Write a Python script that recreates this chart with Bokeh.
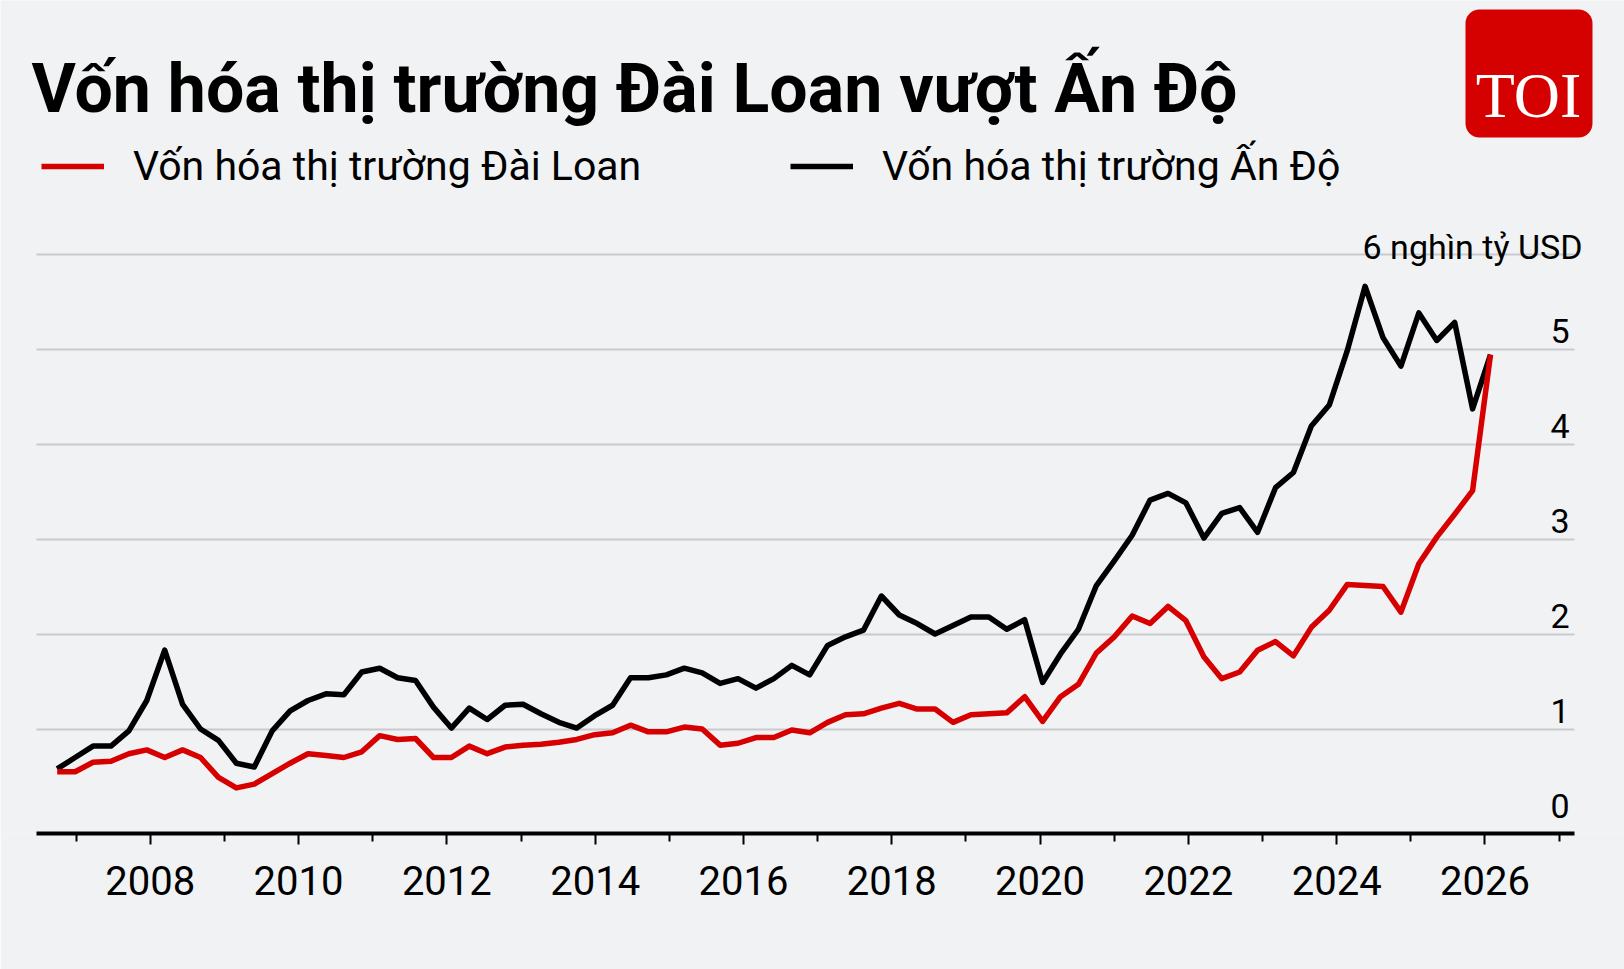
import numpy as np
from bokeh.plotting import figure
from bokeh.models import (FixedTicker, Grid, Legend, LegendItem, Label, LabelSet,
                          BoxAnnotation, ColumnDataSource, Range1d)
from bokeh.core.properties import value
from bokeh.embed import file_html
from bokeh.resources import INLINE

# ---------------- data ----------------
TITLE = "Vốn hóa thị trường Đài Loan vượt Ấn Độ"
LABEL_TW = "Vốn hóa thị trường Đài Loan"
LABEL_IN = "Vốn hóa thị trường Ấn Độ"
UNIT_LABEL = "6 nghìn tỷ USD"
LOGO_TEXT = "TOI"

# observation dates (fractional years, roughly quarterly, late 2006 -> early 2026)
dates = np.linspace(2006.745, 2026.075, 81)

india = [0.58, 0.70, 0.82, 0.82, 0.98, 1.30, 1.83, 1.26, 1.00, 0.88, 0.64, 0.60, 0.98, 1.19, 1.30, 1.37,
         1.36, 1.60, 1.64, 1.54, 1.51, 1.23, 1.01, 1.22, 1.10, 1.25, 1.26, 1.16, 1.07, 1.01, 1.14, 1.25,
         1.54, 1.54, 1.57, 1.64, 1.59, 1.48, 1.53, 1.43, 1.53, 1.67, 1.57, 1.88, 1.97, 2.04, 2.40, 2.20, 2.11,
         2.00, 2.09, 2.18, 2.18, 2.05, 2.15, 1.49, 1.79, 2.05, 2.51, 2.77, 3.04, 3.41, 3.48, 3.38,
         3.01, 3.27, 3.33, 3.07, 3.54, 3.70, 4.19, 4.41, 4.98, 5.66, 5.12, 4.82, 5.38, 5.09, 5.28, 4.37, 4.94]

taiwan = [0.55, 0.55, 0.65, 0.66, 0.74, 0.78, 0.70, 0.78, 0.70, 0.49, 0.38, 0.42, 0.53, 0.64, 0.74, 0.72,
          0.70, 0.76, 0.93, 0.89, 0.90, 0.70, 0.70, 0.82, 0.74, 0.81, 0.83, 0.84, 0.86, 0.89, 0.94, 0.96,
          1.04, 0.97, 0.97, 1.02, 1.00, 0.83, 0.85, 0.91, 0.91, 0.99, 0.96, 1.07, 1.15, 1.16, 1.22, 1.27, 1.21,
          1.21, 1.07, 1.15, 1.16, 1.17, 1.34, 1.08, 1.34, 1.47, 1.80, 1.97, 2.19, 2.11, 2.29, 2.14,
          1.76, 1.53, 1.60, 1.83, 1.92, 1.77, 2.07, 2.25, 2.52, 2.51, 2.50, 2.23, 2.74, 3.02, 3.26, 3.51, 4.94]

x_major_ticks = [2008, 2010, 2012, 2014, 2016, 2018, 2020, 2022, 2024, 2026]
x_minor_ticks = [2007, 2009, 2011, 2013, 2015, 2017, 2019, 2021, 2023, 2025, 2027]
y_grid_ticks = [1, 2, 3, 4, 5, 6]
y_label_ticks = [0, 1, 2, 3, 4, 5]
y_label_text = ["0", "1", "2", "3", "4", "5"]
y_unit_tick = 6

# ---------------- style / layout ----------------
BG = "#F1F2F4"
RED = "#D70000"
LOGO_RED = "#D50000"
GRID = "#C9CACD"
FONT = "Roboto"

W, H = 1624, 969
BOTTOM = 136                      # space for the x axis below the frame
FRAME_H = H - BOTTOM              # frame spans the whole canvas above the axis

# x: frame covers whole width; axis / grid drawn only over the chart span
XMIN, XMAX = 2005.9804, 2027.882
X_AXIS_START, X_AXIS_END = 2006.466, 2027.208
YMIN = -0.1
YMAX = YMIN + FRAME_H / 95.0

p = figure(width=W, height=H, output_backend="svg", toolbar_location=None,
           x_range=Range1d(XMIN, XMAX), y_range=Range1d(YMIN, YMAX),
           y_axis_location=None, title_location=None,
           min_border_left=0, min_border_right=0, min_border_top=0, min_border_bottom=BOTTOM)
p.background_fill_color = BG
p.border_fill_color = BG
p.outline_line_color = None
for g in p.grid:
    g.visible = False

p.add_layout(Grid(dimension=1, ticker=FixedTicker(ticks=y_grid_ticks),
                  cross_bounds=(X_AXIS_START, X_AXIS_END),
                  grid_line_color=GRID, grid_line_width=2))

xa = p.xaxis[0]
xa.bounds = (X_AXIS_START, X_AXIS_END)
xa.ticker = FixedTicker(ticks=x_major_ticks, minor_ticks=x_minor_ticks)
xa.axis_line_color = "black"
xa.axis_line_width = 4
xa.major_tick_line_color = "black"
xa.major_tick_line_width = 2
xa.major_tick_in = 0
xa.major_tick_out = 11
xa.minor_tick_line_color = "black"
xa.minor_tick_line_width = 2
xa.minor_tick_in = 0
xa.minor_tick_out = 8
xa.major_label_text_font = FONT
xa.major_label_text_font_size = "40px"
xa.major_label_text_color = "black"
xa.major_label_standoff = 21

r_in = p.line(dates, india, line_color="black", line_width=5.5, line_join="round")
r_tw = p.line(dates, taiwan, line_color=RED, line_width=5.5, line_join="round")

# y labels sitting above the gridlines at the right end
src = ColumnDataSource(dict(x=[X_AXIS_END] * len(y_label_ticks), y=y_label_ticks, text=y_label_text))
p.add_layout(LabelSet(x="x", y="y", text="text", source=src, text_align="right",
                      text_baseline="alphabetic", x_offset=-5, y_offset=6,
                      text_font=value(FONT), text_font_size=value("34px"), text_color="black"))
p.add_layout(Label(x=X_AXIS_END, y=y_unit_tick, text=UNIT_LABEL, text_align="right",
                   text_baseline="alphabetic", x_offset=8, y_offset=7,
                   text_font=FONT, text_font_size="34px", text_color="black"))

# legend above the chart (screen offsets measured from the frame's bottom-left)
legend = Legend(items=[LegendItem(label=LABEL_TW, renderers=[r_tw]),
                       LegendItem(label=LABEL_IN, renderers=[r_in])],
                location=(41, FRAME_H - 166 - 28), orientation="horizontal",
                label_text_font=FONT, label_text_font_size="41px", label_text_color="black",
                glyph_width=63, glyph_height=56, label_height=56, label_width=620,
                label_standoff=29, spacing=37, padding=0, margin=0,
                border_line_alpha=0, background_fill_alpha=0)
p.add_layout(legend)

# title
p.add_layout(Label(x=31, y=FRAME_H - 88, x_units="screen", y_units="screen", text=TITLE,
                   text_font=FONT, text_font_style="bold", text_font_size="68px",
                   text_baseline="alphabetic", text_color="black"))

# logo
p.add_layout(BoxAnnotation(left=1465, right=1592, top=FRAME_H - 9, bottom=FRAME_H - 137,
                           left_units="screen", right_units="screen",
                           top_units="screen", bottom_units="screen",
                           fill_color=LOGO_RED, fill_alpha=1, line_alpha=0,
                           border_radius=14))
p.add_layout(Label(x=1528, y=FRAME_H - 95, x_units="screen", y_units="screen", text=LOGO_TEXT,
                   text_align="center", text_baseline="alphabetic",
                   text_font="Liberation Serif", text_font_size="64px", text_color="white"))

with open("out.html", "w", encoding="utf-8") as f:
    f.write(file_html(p, INLINE, title="chart"))
